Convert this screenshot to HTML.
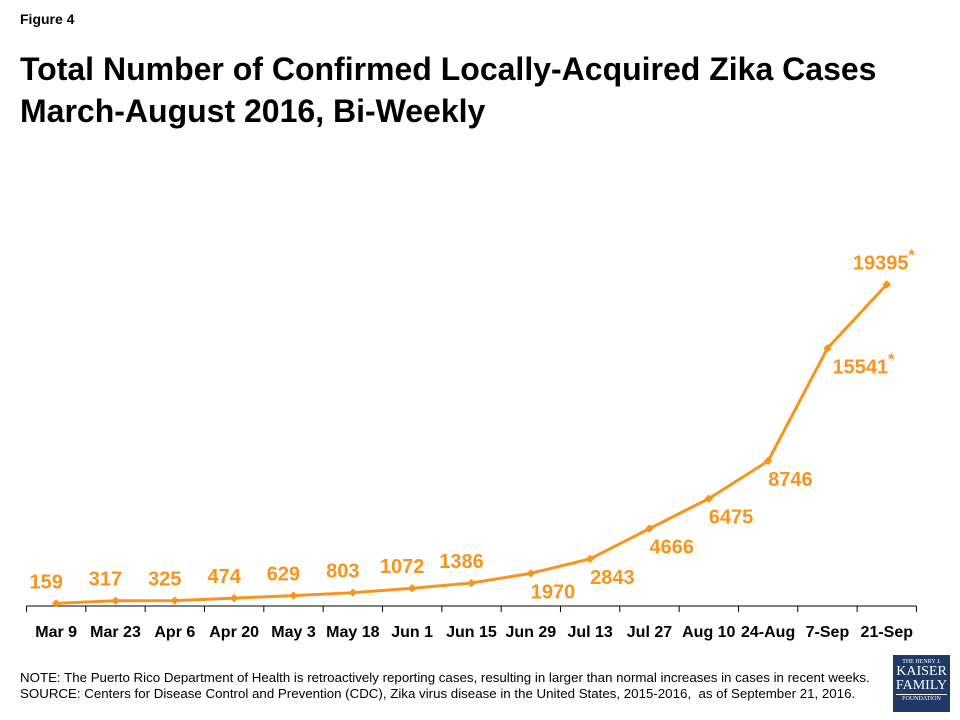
<!DOCTYPE html>
<html><head><meta charset="utf-8">
<style>
body{margin:0;background:#fff;font-family:"Liberation Sans",sans-serif;}
#wrap{position:relative;width:960px;height:720px;overflow:hidden;}
.t{position:absolute;white-space:nowrap;}
</style></head>
<body><div id="wrap">
<div class="t" style="left:20px;top:11px;font-size:14px;font-weight:bold;">Figure 4</div>
<div class="t" style="left:20px;top:48px;font-size:32px;font-weight:bold;line-height:42px;color:#000;">Total Number of Confirmed Locally-Acquired Zika Cases<br>March-August 2016, Bi-Weekly</div>
<svg id="chart" width="960" height="720" style="position:absolute;left:0;top:0;"></svg>
<div class="t" style="left:20px;top:670px;font-size:13.3px;line-height:16px;color:#000;">NOTE: The Puerto Rico Department of Health is retroactively reporting cases, resulting in larger than normal increases in cases in recent weeks.<br>SOURCE: Centers for Disease Control and Prevention (CDC), Zika virus disease in the United States, 2015-2016,&nbsp; as of September 21, 2016.</div>
<div style="position:absolute;left:893px;top:655px;width:57px;height:57px;background:#1f3a68;color:#fff;font-family:'Liberation Serif',serif;text-align:center;">
<div style="font-size:6px;margin-top:4px;">THE HENRY J.</div>
<div style="font-size:14px;line-height:14px;">KAISER</div>
<div style="font-size:14px;line-height:14px;">FAMILY</div>
<div style="font-size:6px;border-top:1px solid #fff;margin:1px 3px 0;padding-top:1px;">FOUNDATION</div>
</div>
</div>
<script>
const categories=["Mar 9","Mar 23","Apr 6","Apr 20","May 3","May 18","Jun 1","Jun 15","Jun 29","Jul 13","Jul 27","Aug 10","24-Aug","7-Sep","21-Sep"];
const cases=[159,317,325,474,629,803,1072,1386,1970,2843,4666,6475,8746,15541,19395];
const labelPos=["above","above","above","above","above","above","above","above","below","below","below","below","below","below","above"];
const starred=[false,false,false,false,false,false,false,false,false,false,false,false,false,true,true];
const NS="http://www.w3.org/2000/svg";
const svg=document.getElementById('chart');
const x0=26.5,step=59.33,axisY=606,yScale=0.01658;
function xPos(i){return x0+step*(i+0.5);}
function yPos(v){return axisY-v*yScale;}
const orange="#F7941E";
function mk(tag,attrs){const e=document.createElementNS(NS,tag);for(const k in attrs)e.setAttribute(k,attrs[k]);svg.appendChild(e);return e;}
let ax=mk('line',{x1:x0,x2:x0+step*categories.length,y1:axisY,y2:axisY,stroke:'#000','stroke-width':1});


for(let i=0;i<=categories.length;i++){
  let tk=mk('line',{x1:x0+step*i,x2:x0+step*i,y1:axisY,y2:axisY+6,stroke:'#000','stroke-width':1});
  
  
}
categories.forEach((c,i)=>{
  let t=mk('text',{x:xPos(i),y:axisY+31,'text-anchor':'middle','font-size':'16','font-weight':'bold',fill:'#000','font-family':'Liberation Sans, sans-serif'});
  t.textContent=c;
  
  
});
let pts=cases.map((v,i)=>xPos(i)+','+yPos(v)).join(' ');
let pl=mk('polyline',{points:pts,fill:'none',stroke:orange,'stroke-width':3,'stroke-linejoin':'round'});


cases.forEach((v,i)=>{
  const x=xPos(i),y=yPos(v);
  let m=mk('rect',{x:x-3,y:y-3,width:6,height:6,fill:orange,transform:`rotate(45 ${x} ${y})`});
  
  
  let t;
  if(labelPos[i]==='above'){
    t=mk('text',{x:x-(i===14?3:10),y:y-15,'text-anchor':'middle'});
  } else {
    t=mk('text',{x:x+(i===13?5:0),y:y+25,'text-anchor':'start'});
  }
  t.setAttribute('font-size','20');t.setAttribute('font-weight','bold');t.setAttribute('fill',orange);t.setAttribute('font-family','Liberation Sans, sans-serif');
  t.textContent=String(v);
  if(starred[i]){const s=document.createElementNS(NS,'tspan');s.setAttribute('dy','-9');s.setAttribute('font-size','16');s.textContent='*';t.appendChild(s);}
  
  
});
</script>
</body></html>
